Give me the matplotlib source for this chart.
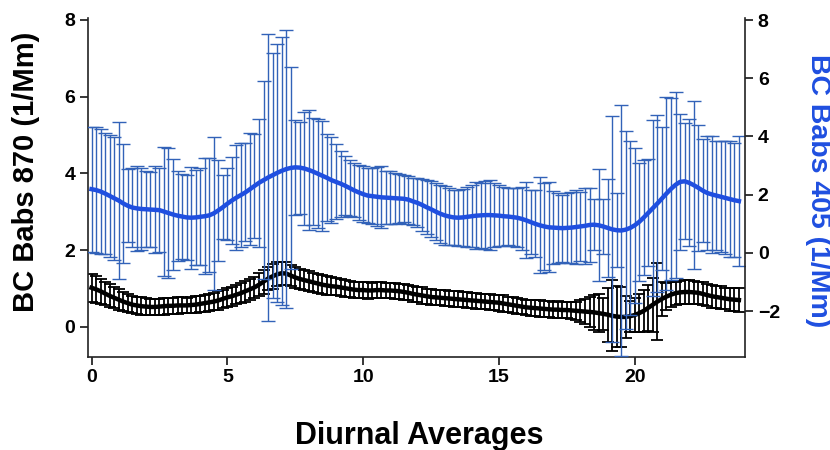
import matplotlib
matplotlib.use("Agg")
import matplotlib.pyplot as plt
import numpy as np

plt.rcParams['font.family'] = ['Liberation Sans', 'DejaVu Sans']
plt.rcParams['font.weight'] = 'bold'

# diurnal averages, 10 minute bins (one row = one hour)
babs870 = [
    1.02, 0.98, 0.93, 0.87, 0.81, 0.76,
    0.71, 0.66, 0.62, 0.58, 0.56, 0.54,
    0.53, 0.52, 0.52, 0.53, 0.54, 0.55,
    0.55, 0.56, 0.56, 0.56, 0.57, 0.58,
    0.60, 0.62, 0.64, 0.66, 0.69, 0.73,
    0.77, 0.80, 0.84, 0.88, 0.93, 0.98,
    1.03, 1.10, 1.18, 1.26, 1.32, 1.37,
    1.40, 1.39, 1.34, 1.29, 1.25, 1.22,
    1.19, 1.16, 1.13, 1.10, 1.08, 1.06,
    1.05, 1.03, 1.01, 0.99, 0.97, 0.96,
    0.96, 0.95, 0.95, 0.96, 0.96, 0.95,
    0.95, 0.94, 0.93, 0.91, 0.89, 0.86,
    0.84, 0.82, 0.80, 0.78, 0.77, 0.76,
    0.75, 0.74, 0.73, 0.72, 0.71, 0.70,
    0.69, 0.68, 0.67, 0.66, 0.65, 0.64,
    0.63, 0.61, 0.59, 0.57, 0.55, 0.53,
    0.51, 0.50, 0.49, 0.48, 0.47, 0.46,
    0.45, 0.45, 0.44, 0.44, 0.43, 0.42,
    0.41, 0.40, 0.39, 0.38, 0.36, 0.34,
    0.32, 0.29, 0.27, 0.26, 0.26, 0.28,
    0.31, 0.36, 0.42, 0.50, 0.58, 0.66,
    0.73, 0.79, 0.84, 0.88, 0.90, 0.91,
    0.91, 0.90, 0.89, 0.86, 0.83, 0.80,
    0.78, 0.76, 0.74, 0.72, 0.71, 0.70,
]
err870 = [
    0.36, 0.35, 0.33, 0.31, 0.30, 0.28,
    0.27, 0.25, 0.24, 0.23, 0.22, 0.23,
    0.22, 0.21, 0.22, 0.21, 0.22, 0.21,
    0.21, 0.22, 0.21, 0.20, 0.21, 0.22,
    0.21, 0.22, 0.23, 0.22, 0.24, 0.23,
    0.24, 0.25, 0.24, 0.26, 0.27, 0.28,
    0.28, 0.30, 0.31, 0.30, 0.32, 0.31,
    0.30, 0.29, 0.28, 0.27, 0.26, 0.27,
    0.26, 0.25, 0.24, 0.25, 0.24, 0.23,
    0.23, 0.22, 0.22, 0.21, 0.21, 0.20,
    0.20, 0.21, 0.20, 0.20, 0.21, 0.20,
    0.20, 0.21, 0.20, 0.20, 0.19, 0.20,
    0.20, 0.21, 0.20, 0.21, 0.20, 0.20,
    0.21, 0.20, 0.20, 0.21, 0.20, 0.21,
    0.20, 0.21, 0.20, 0.20, 0.21, 0.20,
    0.21, 0.21, 0.20, 0.20, 0.21, 0.20,
    0.20, 0.21, 0.20, 0.21, 0.20, 0.21,
    0.21, 0.22, 0.21, 0.22, 0.23, 0.24,
    0.28, 0.32, 0.40, 0.45, 0.50, 0.42,
    0.70, 0.93, 0.80, 0.78, 0.55, 0.40,
    0.45, 0.50, 0.55, 0.60, 0.70, 1.00,
    0.45, 0.35, 0.32, 0.30, 0.30, 0.32,
    0.30, 0.30, 0.28, 0.30, 0.28, 0.30,
    0.28, 0.30, 0.28, 0.30, 0.30, 0.32,
]
babs405 = [
    2.19, 2.16, 2.11, 2.04, 1.96, 1.88,
    1.80, 1.70, 1.62, 1.56, 1.53, 1.51,
    1.50, 1.49, 1.48, 1.47, 1.42, 1.37,
    1.32, 1.28, 1.25, 1.22, 1.21, 1.22,
    1.24, 1.26, 1.29, 1.36, 1.46, 1.57,
    1.69, 1.80, 1.90, 1.99, 2.08, 2.19,
    2.30, 2.41, 2.50, 2.59, 2.67, 2.75,
    2.82, 2.88, 2.92, 2.94, 2.93, 2.90,
    2.85, 2.79, 2.72, 2.65, 2.58, 2.50,
    2.44, 2.38, 2.31, 2.23, 2.15, 2.08,
    2.02, 1.97, 1.95, 1.93, 1.91, 1.90,
    1.89, 1.88, 1.87, 1.86, 1.83, 1.77,
    1.72, 1.65, 1.57, 1.50, 1.42, 1.35,
    1.29, 1.25, 1.22, 1.21, 1.22, 1.24,
    1.26, 1.28, 1.29, 1.30, 1.30, 1.29,
    1.28, 1.26, 1.25, 1.23, 1.21, 1.17,
    1.12, 1.06, 1.00, 0.95, 0.91, 0.88,
    0.87, 0.86, 0.85, 0.86, 0.87, 0.89,
    0.91, 0.93, 0.96, 0.97, 0.95, 0.91,
    0.86, 0.81, 0.78, 0.77, 0.80, 0.86,
    0.95, 1.07, 1.22, 1.38, 1.54, 1.70,
    1.87, 2.04, 2.20, 2.34, 2.44, 2.46,
    2.41, 2.33, 2.24, 2.14, 2.06, 2.01,
    1.97, 1.93, 1.89, 1.85, 1.81, 1.78,
]
err405 = [
    2.15, 2.16, 2.14, 2.07, 2.10, 2.11,
    2.70, 2.05, 1.25, 1.36, 1.45, 1.40,
    1.30, 1.28, 1.49, 1.44, 2.22, 2.24,
    1.90, 1.55, 1.47, 1.47, 1.75, 1.64,
    1.67, 1.99, 1.96, 2.62, 1.73, 1.10,
    1.23, 1.50, 1.81, 1.78, 1.68, 1.92,
    1.80, 2.20, 3.39, 4.92, 4.21, 4.43,
    4.60, 4.77, 3.47, 1.64, 1.58, 1.95,
    2.07, 1.84, 1.88, 1.88, 1.50, 1.48,
    1.29, 1.13, 1.02, 0.96, 0.93, 0.94,
    0.95, 0.94, 0.96, 1.01, 1.06, 0.92,
    0.91, 0.88, 0.84, 0.80, 0.82, 0.80,
    0.84, 0.88, 0.92, 0.96, 0.98, 1.00,
    1.02, 0.98, 0.95, 0.96, 0.98, 1.02,
    1.06, 1.15, 1.12, 1.18, 1.20, 1.10,
    1.05, 1.02, 0.98, 1.00, 1.02, 1.08,
    1.30, 1.10, 1.15, 1.65, 1.48, 1.55,
    1.25, 1.20, 1.15, 1.19, 1.22, 1.27,
    1.19, 1.30, 1.27, 0.88, 1.92, 0.95,
    1.68, 3.88, 1.28, 4.31, 3.40, 2.98,
    2.66, 2.03, 1.98, 1.83, 3.03, 3.04,
    2.46, 3.32, 3.12, 3.19, 2.33, 1.99,
    2.18, 2.88, 2.17, 1.78, 1.97, 2.02,
    1.86, 1.91, 1.94, 2.00, 1.95, 2.22,
]
hours = np.arange(len(babs870)) / 6.0

blue = '#1f4fe0'
blue_err = '#3262b8'

fig = plt.figure(figsize=(8.3, 4.5), dpi=100)
ax = fig.add_axes([0.106, 0.207, 0.792, 0.753])
ax2 = ax.twinx()

ax.errorbar(hours, babs870, yerr=err870, color='black', lw=3.2,
            elinewidth=1.3, capsize=4, capthick=1.3)
ax2.errorbar(hours, babs405, yerr=err405, color=blue, ecolor=blue_err, lw=3.2,
             elinewidth=1.0, capsize=5, capthick=1.0)

ax.set_xlim(-0.13, 24.07)
ax.set_ylim(-0.78, 8.05)
ax2.set_ylim(-3.57, 8.07)

ax.set_xticks([0, 5, 10, 15, 20])
ax.set_yticks([0, 2, 4, 6, 8])
ax2.set_yticks([-2, 0, 2, 4, 6, 8])

for a in (ax, ax2):
    a.spines['top'].set_visible(False)
    for s in a.spines.values():
        s.set_linewidth(1.2)
        s.set_color('#222222')
    a.tick_params(direction='out', length=6, width=1.1, labelsize=14, pad=3)
ax.spines['right'].set_visible(False)
ax2.spines['left'].set_visible(False)
ax2.spines['bottom'].set_visible(False)

ax.set_xlabel('Diurnal Averages', fontsize=22, fontweight='bold', va='center')
ax.xaxis.set_label_coords(0.504, -0.233)
ax.set_ylabel('BC Babs 870 (1/Mm)', fontsize=21, fontweight='bold', va='center')
ax.yaxis.set_label_coords(-0.094, 0.546)
ax2.set_ylabel('BC Babs 405 (1/Mm)', fontsize=20.5, fontweight='bold',
               color=blue, rotation=-90, va='center')
ax2.yaxis.set_label_coords(1.11, 0.49)

fig.savefig('out.png', dpi=100)
